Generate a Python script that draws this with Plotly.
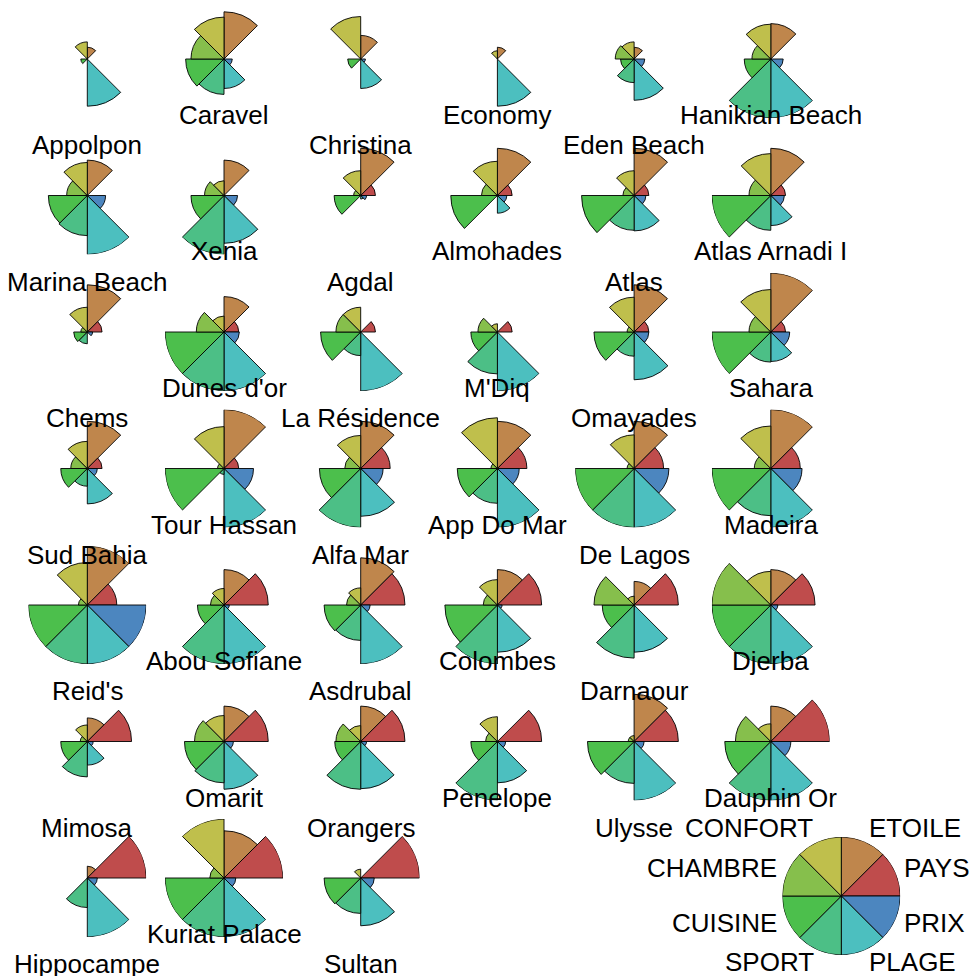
import plotly.graph_objects as go

variables = ["ETOILE", "PAYS", "PRIX", "PLAGE", "SPORT", "CUISINE", "CHAMBRE", "CONFORT"]
seg_colors = ["#BF864C", "#BF4C4C", "#4C86BF", "#4CBFBF", "#4CBF86", "#4CBF4C", "#86BF4C", "#BFBF4C"]

hotels = ["Appolpon", "Caravel", "Christina", "Economy", "Eden Beach", "Hanikian Beach",
          "Marina Beach", "Xenia", "Agdal", "Almohades", "Atlas", "Atlas Arnadi I",
          "Chems", "Dunes d'or", "La Résidence", "M'Diq", "Omayades", "Sahara",
          "Sud Bahia", "Tour Hassan", "Alfa Mar", "App Do Mar", "De Lagos", "Madeira",
          "Reid's", "Abou Sofiane", "Asdrubal", "Colombes", "Darnaour", "Djerba",
          "Mimosa", "Omarit", "Orangers", "Penelope", "Ulysse", "Dauphin Or",
          "Hippocampe", "Kuriat Palace", "Sultan"]

# scaled values (0..1), one list per variable
ETOILE = [0.2, 0.8, 0.4, 0.2, 0.2, 0.6,
          0.6, 0.6, 0.8, 0.8, 0.8, 0.8,
          0.8, 0.6, 0.0, 0.0, 0.8, 1.0,
          0.8, 1.0, 0.8, 0.8, 0.8, 1.0,
          1.0, 0.6, 0.8, 0.6, 0.4, 0.6,
          0.4, 0.6, 0.6, 0.0, 0.8, 0.6,
          0.2, 0.8, 0.0]
PAYS = [0.0, 0.0, 0.0, 0.0, 0.0, 0.0,
        0.0, 0.0, 0.25, 0.25, 0.25, 0.25,
        0.25, 0.25, 0.25, 0.25, 0.25, 0.25,
        0.25, 0.25, 0.5, 0.5, 0.5, 0.5,
        0.5, 0.75, 0.75, 0.75, 0.75, 0.75,
        0.75, 0.75, 0.75, 0.75, 0.75, 1.0,
        1.0, 1.0, 1.0]
PRIX = [0.0, 0.14, 0.08, 0.0, 0.18, 0.21,
        0.31, 0.23, 0.10, 0.16, 0.20, 0.23,
        0.09, 0.26, 0.0, 0.0, 0.25, 0.32,
        0.17, 0.50, 0.38, 0.37, 0.59, 0.53,
        1.0, 0.09, 0.16, 0.08, 0.0, 0.12,
        0.10, 0.16, 0.10, 0.14, 0.17, 0.34,
        0.17, 0.20, 0.23]
PLAGE = [0.80, 0.50, 0.50, 0.80, 0.70, 1.0,
         1.0, 0.81, 0.06, 0.30, 0.60, 0.51,
         0.0, 1.0, 1.0, 1.0, 0.81, 0.50,
         0.60, 1.0, 0.81, 1.0, 1.0, 1.0,
         1.0, 1.0, 1.0, 0.80, 0.80, 1.0,
         0.40, 0.81, 0.80, 0.70, 1.0, 1.0,
         1.0, 1.0, 0.81]
SPORT = [0.0, 0.60, 0.0, 0.0, 0.40, 1.0,
         0.68, 1.0, 0.0, 0.0, 0.59, 0.59,
         0.20, 1.0, 0.40, 0.71, 0.41, 0.51,
         0.30, 0.10, 1.0, 0.59, 1.0, 0.80,
         1.0, 1.0, 0.60, 1.0, 0.90, 1.0,
         0.60, 0.70, 0.81, 1.0, 0.71, 1.0,
         0.50, 1.0, 0.60]
CUISINE = [0.11, 0.65, 0.22, 0.0, 0.23, 0.45,
           0.66, 0.56, 0.45, 0.79, 0.89, 1.0,
           0.23, 1.0, 0.68, 0.45, 0.68, 1.0,
           0.45, 1.0, 0.70, 0.68, 1.0, 1.0,
           1.0, 0.45, 0.62, 0.89, 0.54, 1.0,
           0.45, 0.67, 0.44, 0.45, 0.79, 0.78,
           0.0, 1.0, 0.62]
CHAMBRE = [0.0, 0.56, 0.0, 0.0, 0.32, 0.32,
           0.35, 0.33, 0.12, 0.27, 0.19, 0.37,
           0.11, 0.47, 0.42, 0.33, 0.12, 0.37,
           0.28, 0.11, 0.27, 0.11, 0.12, 0.28,
           0.15, 0.23, 0.24, 0.24, 0.68, 1.0,
           0.12, 0.50, 0.42, 0.20, 0.10, 0.60,
           0.0, 0.24, 0.0]
CONFORT = [0.29, 0.71, 0.72, 0.14, 0.29, 0.59,
           0.56, 0.25, 0.42, 0.58, 0.42, 0.71,
           0.42, 0.27, 0.42, 0.14, 0.59, 0.72,
           0.46, 0.71, 0.56, 0.86, 0.57, 0.72,
           0.72, 0.28, 0.29, 0.43, 0.15, 0.57,
           0.28, 0.44, 0.27, 0.42, 0.10, 0.30,
           0.0, 1.0, 0.15]

series = [ETOILE, PAYS, PRIX, PLAGE, SPORT, CUISINE, CHAMBRE, CONFORT]
key_values = [1, 1, 1, 1, 1, 1, 1, 1]

W, H = 973, 976
R = 59.0           # pixel radius of a full segment
X0, DX = 87.3, 136.7
Y0, DY = 59.0, 136.5
NCOL = 6
KEY_C = (841.3, 896.0)

theta = [22.5 + 45 * k for k in range(8)]
fig = go.Figure()
annotations = []
font = dict(family="Liberation Sans, Arial, sans-serif", size=26, color="black")


def add_star(idx, cx, cy, values):
    name = "polar" if idx == 1 else f"polar{idx}"
    fig.add_trace(go.Barpolar(
        r=values, theta=theta, width=[45] * 8,
        marker=dict(color=seg_colors, line=dict(color="black", width=0.9)),
        subplot=name, hoverinfo="skip", showlegend=False))
    fig.update_layout(**{name: dict(
        domain=dict(x=[(cx - R) / W, (cx + R) / W],
                    y=[1 - (cy + R) / H, 1 - (cy - R) / H]),
        bgcolor="rgba(0,0,0,0)",
        radialaxis=dict(range=[0, 1], visible=False, showgrid=False),
        angularaxis=dict(visible=False, showgrid=False, showline=False,
                         rotation=90, direction="clockwise"),
        hole=0)})


for i, h in enumerate(hotels):
    col, row = i % NCOL, i // NCOL
    cx, cy = X0 + DX * col, Y0 + DY * row
    vals = [s[i] for s in series]
    add_star(i + 1, cx, cy, vals)
    off = 86 if col % 2 == 0 else 56
    annotations.append(dict(x=cx / W, y=1 - (cy + off) / H, xref="paper", yref="paper",
                            text=h, showarrow=False, xanchor="center", yanchor="middle",
                            font=font))

# key
add_star(len(hotels) + 1, KEY_C[0], KEY_C[1], key_values)
key_pos = [(867, 828, "left"), (902, 868, "left"), (902, 922.5, "left"), (867, 961.5, "left"),
           (816, 961.5, "right"), (778.7, 922.5, "right"), (778.7, 868, "right"), (815, 828, "right")]
for v, (x, y, anc) in zip(variables, key_pos):
    annotations.append(dict(x=x / W, y=1 - y / H, xref="paper", yref="paper",
                            text=v, showarrow=False, xanchor=anc, yanchor="middle",
                            font=font))

fig.update_layout(width=W, height=H, margin=dict(l=0, r=0, t=0, b=0),
                  paper_bgcolor="white", plot_bgcolor="white",
                  showlegend=False, annotations=annotations)

fig.write_html("out.html", config={"displayModeBar": False},
               post_script="document.body.style.margin='0px';document.body.style.overflow='hidden';")
